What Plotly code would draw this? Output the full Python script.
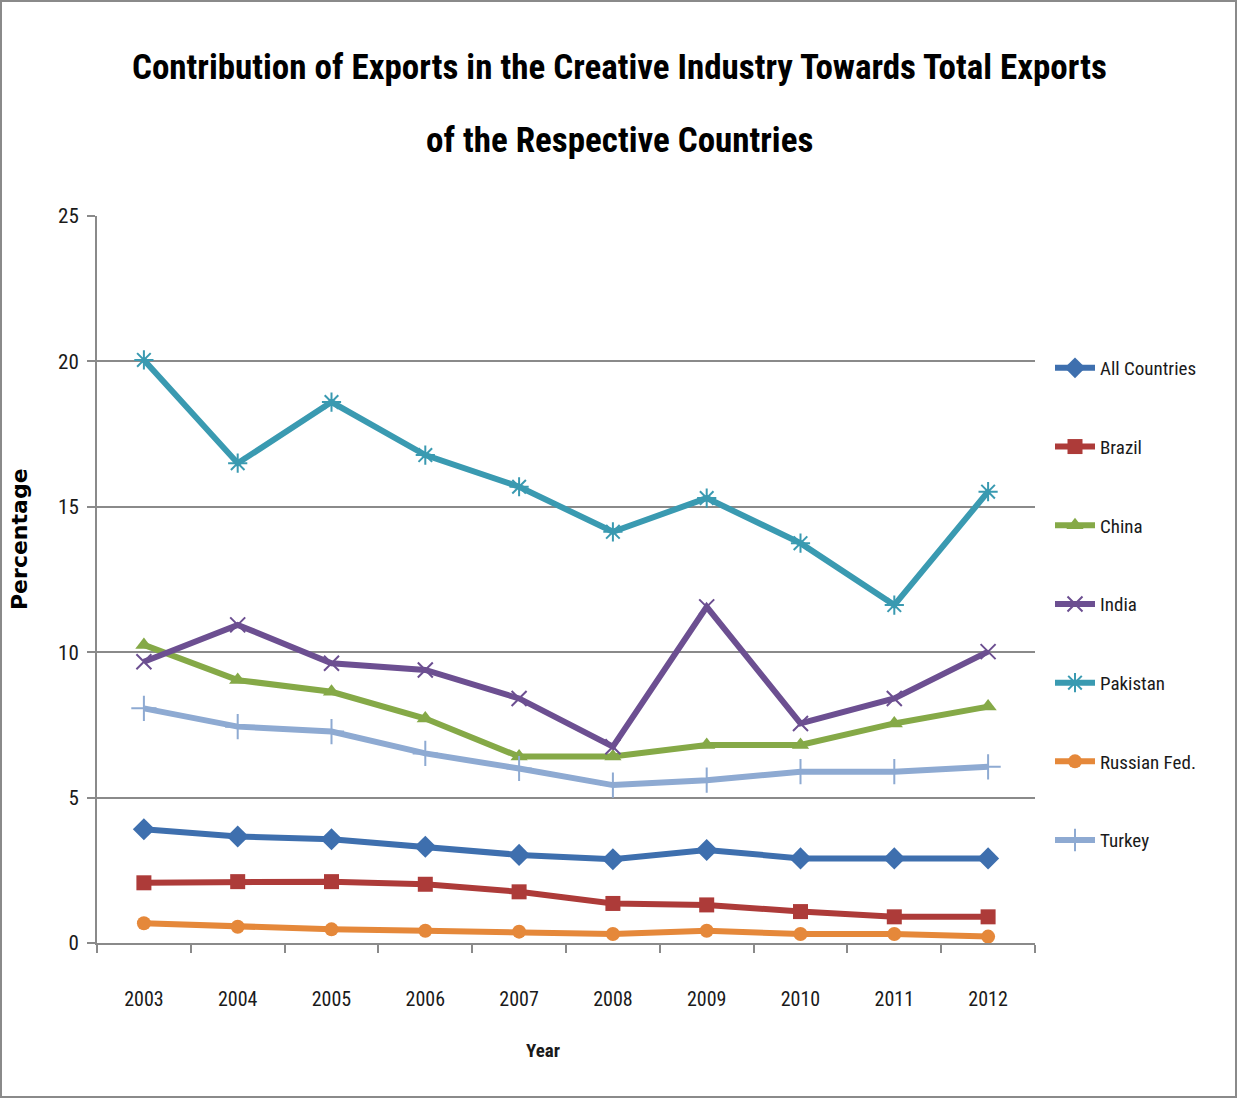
import plotly.graph_objects as go

# Share of creative-industry exports in total exports (%), 2003-2012
years = ["2003", "2004", "2005", "2006", "2007", "2008", "2009", "2010", "2011", "2012"]
all_countries = [3.91, 3.66, 3.57, 3.31, 3.03, 2.88, 3.20, 2.91, 2.91, 2.91]
brazil = [2.07, 2.11, 2.11, 2.02, 1.76, 1.36, 1.31, 1.08, 0.90, 0.90]
china = [10.25, 9.04, 8.64, 7.72, 6.41, 6.41, 6.81, 6.81, 7.55, 8.13]
india = [9.67, 10.94, 9.62, 9.39, 8.41, 6.75, 11.56, 7.55, 8.41, 10.02]
pakistan = [20.05, 16.50, 18.60, 16.78, 15.69, 14.14, 15.30, 13.75, 11.62, 15.52]
russian_fed = [0.68, 0.56, 0.47, 0.42, 0.39, 0.31, 0.42, 0.31, 0.31, 0.22]
turkey = [8.07, 7.44, 7.27, 6.52, 6.00, 5.43, 5.60, 5.89, 5.89, 6.06]

y_ticks = [0, 5, 10, 15, 20, 25]

NARROW = "Roboto Condensed, Liberation Sans Narrow, Arial Narrow, DejaVu Sans Condensed, sans-serif"

series = [
    ("All Countries", all_countries, "#3e6fae", "diamond", 17, 0),
    ("Brazil", brazil, "#ad3b39", "square", 15, 0),
    ("China", china, "#85a947", "triangle-up", 15, 0),
    ("India", india, "#6c4f91", "x-thin-open", 15, 2),
    ("Pakistan", pakistan, "#3a9ab1", "asterisk-open", 16, 2),
    ("Russian Fed.", russian_fed, "#e5883a", "circle", 14, 0),
    ("Turkey", turkey, "#8eaad2", "cross-thin-open", 18, 2),
]

fig = go.Figure()
for name, vals, color, symbol, size, lw in series:
    marker = dict(symbol=symbol, size=size, color=color)
    if lw:
        marker["line"] = dict(color=color, width=lw)
    else:
        marker["line"] = dict(width=0)
    fig.add_trace(go.Scatter(
        x=years, y=vals, name=name, mode="lines+markers",
        line=dict(color=color, width=6),
        marker=marker,
        legendgroup=name,
    ))

W, H = 1238, 1099
L, R, T, B = 97, 203, 216, 156
pw, ph = W - L - R, H - T - B


def px_x(x):
    return (x - L) / pw


def px_y(y):
    return (H - B - y) / ph


fig.update_layout(
    width=W, height=H,
    margin=dict(l=L, r=R, t=T, b=B),
    paper_bgcolor="white", plot_bgcolor="white",
    font=dict(family=NARROW, size=20, color="#1a1a1a"),
    showlegend=True,
    legend=dict(
        x=px_x(1050), y=px_y(349), xanchor="left", yanchor="top",
        font=dict(family=NARROW, size=19, color="#1a1a1a"),
        tracegroupgap=51, itemwidth=40, bgcolor="rgba(0,0,0,0)",
    ),
    xaxis=dict(
        type="category", tickson="boundaries", range=[-0.5, 9.5],
        showline=True, linecolor="#8a8a8a", linewidth=2,
        ticks="outside", ticklen=8, tickcolor="#8a8a8a", tickwidth=2,
        showgrid=False, zeroline=False,
        ticklabelstandoff=37,
        tickfont=dict(family=NARROW, size=20, color="#1a1a1a"),
    ),
    yaxis=dict(
        range=[0, 25], tickvals=y_ticks,
        showline=True, linecolor="#8a8a8a", linewidth=2,
        ticks="outside", ticklen=8, tickcolor="#8a8a8a", tickwidth=2,
        showgrid=True, gridcolor="#8a8a8a", gridwidth=2,
        zeroline=False, ticklabelstandoff=4,
        tickfont=dict(family=NARROW, size=21, color="#1a1a1a"),
    ),
    annotations=[
        dict(text="<b>Contribution of Exports in the Creative Industry Towards Total Exports</b>",
             xref="paper", yref="paper", x=px_x(619), y=px_y(67),
             xanchor="center", yanchor="middle", showarrow=False,
             font=dict(family=NARROW, size=35, color="#000000")),
        dict(text="<b>of the Respective Countries</b>",
             xref="paper", yref="paper", x=px_x(619), y=px_y(141),
             xanchor="center", yanchor="middle", showarrow=False,
             font=dict(family=NARROW, size=35, color="#000000")),
        dict(text="<b>Year</b>",
             xref="paper", yref="paper", x=px_x(543), y=px_y(1050),
             xanchor="center", yanchor="middle", showarrow=False,
             font=dict(family=NARROW, size=19, color="#1a1a1a")),
        dict(text="<b>Percentage</b>",
             xref="paper", yref="paper", x=px_x(19), y=px_y(539),
             xanchor="center", yanchor="middle", showarrow=False, textangle=-90,
             font=dict(family="DejaVu Sans, sans-serif", size=22, color="#000000")),
    ],
    shapes=[
        dict(type="rect", xref="paper", yref="paper",
             x0=px_x(1), x1=px_x(1236), y0=px_y(1097), y1=px_y(1),
             line=dict(color="#8a8a8a", width=2), fillcolor="rgba(0,0,0,0)", layer="below"),
    ],
)

fig.write_html("out.html")
